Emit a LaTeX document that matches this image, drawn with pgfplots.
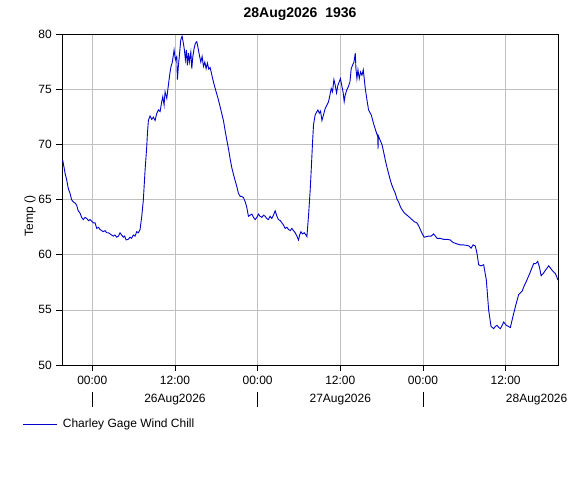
\documentclass[border=0pt]{standalone}
\usepackage{pgfplots}
\pgfplotsset{compat=1.18}
\usepackage{fontspec}
\setmainfont{Liberation Sans}
\definecolor{lineblue}{RGB}{0,0,205}
\definecolor{gridgray}{RGB}{192,192,192}
\begin{document}
\fontsize{12bp}{14bp}\selectfont
\begin{tikzpicture}[x=1bp,y=1bp]
\useasboundingbox (0,0) rectangle (584,488);
\node[font=\fontsize{14bp}{16bp}\selectfont\bfseries] at (300,474) {28Aug2026\ \ 1936};
\node[rotate=90] at (30,272) {Temp ()};
\begin{axis}[
  at={(62bp,123bp)}, anchor=south west,
  scale only axis, width=496bp, height=330.5bp,
  xmin=-4.4, xmax=67.6, ymin=50, ymax=80,
  xtick={0,12,24,36,48,60},
  xticklabels={00:00,12:00,00:00,12:00,00:00,12:00},
  ytick={50,55,60,65,70,75,80},
  xtick pos=left, ytick pos=left,
  grid=major, grid style={gridgray, line width=0.8bp},
  axis line style={black, line width=0.8bp},
  tick style={black, line width=0.8bp},
  tick align=outside, major tick length=6bp,
  /pgf/number format/assume math mode=true,
  ticklabel style={font=\fontsize{12bp}{14bp}\selectfont},
  xticklabel style={yshift=-1bp},
  clip=false,
  legend style={at={(axis description cs:-0.0786,-0.1785)}, anchor=west,
    draw=none, fill=none, inner sep=0pt, outer sep=0pt,
    font=\fontsize{12bp}{14bp}\selectfont,
    /tikz/every odd column/.append style={column sep=3bp}},
  legend image code/.code={\draw[#1] (0bp,0bp) -- (34bp,0bp);},
]
\addplot[lineblue, line width=0.9bp] coordinates {
(-4.30,68.6) (-4.21,68.3) (-3.95,67.4) (-3.72,66.8) (-3.48,66.0) (-3.24,65.6) (-3.00,65.0) (-2.76,64.8) (-2.50,64.7) (-2.27,64.5)
(-2.05,64.0) (-1.79,63.8) (-1.55,63.4) (-1.31,63.2) (-1.05,63.4) (-0.81,63.3) (-0.55,63.1) (-0.33,63.2) (0.15,62.9) (0.40,62.9) (0.64,62.4)
(0.90,62.5) (1.12,62.3) (1.35,62.2) (1.60,62.1) (1.85,62.2) (2.09,62.0) (2.35,62.0) (2.57,61.9) (2.80,61.8) (3.05,61.7) (3.30,61.8) (3.54,61.6)
(3.80,61.7) (4.02,62.0) (4.25,61.8) (4.50,61.6) (4.70,61.7) (4.90,61.35) (5.20,61.4) (5.48,61.6) (5.70,61.5) (5.96,61.8) (6.20,61.7) (6.45,62.1)
(6.70,62.0) (6.93,62.3) (7.18,63.5) (7.41,65.0) (7.66,67.7) (7.90,69.8) (8.00,71.0)
(8.14,72.2) (8.38,72.6) (8.63,72.3) (8.86,72.5) (9.11,72.2) (9.36,72.85) (9.59,73.15) (9.84,73.0)
(10.08,73.9) (10.23,74.35) (10.42,73.6) (10.56,74.8) (10.81,74.2) (11.04,75.4) (11.29,76.6)
(11.43,77.1) (11.62,77.5) (11.87,78.6) (12.06,77.7) (12.26,78.0) (12.35,75.9) (12.49,77.1)
(12.64,78.1) (12.84,79.5) (13.03,79.86) (13.22,79.2) (13.37,78.6) (13.51,77.7) (13.66,78.6)
(13.80,77.2) (13.95,78.3) (14.09,77.5) (14.30,78.4) (14.44,76.9) (14.59,78.0) (14.78,78.75)
(14.96,79.2) (15.17,79.35) (15.36,78.75) (15.55,78.1) (15.75,77.5) (15.94,78.0) (16.13,77.1)
(16.33,77.5) (16.52,76.9) (16.71,77.4) (16.91,76.85) (17.10,77.0) (17.29,76.5) (17.58,75.7)
(17.97,74.8) (18.25,74.2) (18.55,73.45) (19.03,72.2) (19.30,71.2) (19.53,70.4) (19.80,69.5) (20.01,68.7) (20.25,67.9) (20.49,67.3)
(20.75,66.7) (20.98,66.2) (21.20,65.6) (21.46,65.3) (21.70,65.3) (21.94,65.2) (22.20,64.8) (22.43,64.3) (22.66,63.5) (22.90,63.6) (23.16,63.7)
(23.40,63.4) (23.64,63.2) (23.88,63.4) (24.12,63.7) (24.35,63.5) (24.61,63.4) (24.85,63.6) (25.09,63.5) (25.30,63.3) (25.57,63.2) (25.80,63.5) (26.06,63.3)
(26.30,63.6) (26.54,64.0) (26.80,63.5) (27.02,63.2) (27.30,63.1) (27.52,62.9) (27.75,62.7) (27.99,62.4) (28.25,62.5) (28.48,62.3) (28.75,62.2) (28.97,62.4)
(29.20,62.2) (29.45,62.0) (29.70,61.7) (29.93,61.35) (30.10,61.8) (30.28,62.1) (30.50,61.9) (30.76,62.0) (31.00,61.8) (31.15,61.65) (31.38,63.5)
(31.63,65.9) (31.80,68.0) (31.96,70.1) (32.11,71.8) (32.35,72.7) (32.60,73.0) (32.75,73.15) (32.94,72.85) (33.13,73.05)
(33.33,72.2) (33.56,72.7) (33.81,73.3) (34.05,73.6) (34.29,73.9) (34.49,74.5) (34.68,75.1)
(34.87,74.8) (35.07,75.9) (35.26,75.4) (35.45,74.7) (35.65,75.4) (35.84,75.7) (36.02,76.0)
(36.23,75.3) (36.42,74.7) (36.56,73.9) (36.71,74.5) (36.96,75.0) (37.19,75.3) (37.40,75.7)
(37.58,76.9) (37.77,77.2) (37.98,77.5) (38.17,78.3) (38.27,76.9) (38.41,76.0) (38.56,76.8)
(38.75,76.0) (38.94,76.6) (39.14,76.3) (39.33,76.8) (39.47,76.0) (39.62,75.1) (39.87,74.05)
(40.10,73.15) (40.49,72.7) (40.83,71.9) (41.18,71.2) (41.45,70.7) (41.47,69.6) (41.52,70.8)
(42.05,70.0) (42.30,69.3)
(42.53,68.6) (42.75,68.0) (43.00,67.4) (43.25,66.8) (43.50,66.3) (43.75,65.9) (43.98,65.6) (44.20,65.1) (44.46,64.8) (44.70,64.4) (44.95,64.1)
(45.30,63.8) (45.68,63.6) (46.05,63.4) (46.40,63.2) (46.75,63.0) (47.13,62.9) (47.40,62.6) (47.61,62.3) (47.90,61.9) (48.19,61.6) (48.50,61.65) (48.82,61.7)
(49.20,61.7) (49.54,61.9) (49.80,61.7) (50.04,61.5) (50.50,61.5) (51.00,61.4) (51.50,61.4) (51.97,61.35) (52.20,61.2) (52.45,61.1) (52.90,61.0) (53.43,60.9)
(53.90,60.9) (54.40,60.85) (54.70,60.8) (54.98,60.6) (55.27,60.9) (55.60,60.8) (55.85,60.1) (56.08,59.1) (56.40,59.0)
(56.81,59.1) (57.20,57.7) (57.53,55.0) (57.88,53.5) (58.26,53.3) (58.50,53.5) (58.75,53.6) (59.00,53.4)
(59.23,53.3) (59.50,53.6) (59.71,53.9) (60.10,53.6) (60.40,53.5) (60.68,53.4) (61.17,54.7) (61.50,55.5) (61.89,56.4)
(62.39,56.7) (62.70,57.2) (63.01,57.6) (63.49,58.3) (63.80,58.8) (64.07,59.2) (64.35,59.2) (64.65,59.4) (64.90,58.9) (65.15,58.1)
(65.45,58.3) (65.77,58.6) (66.25,59.0) (66.50,58.8) (66.74,58.6) (67.22,58.3) (67.61,57.7)
};
\addlegendentry{Charley Gage Wind Chill}
\draw[black, line width=0.8bp] ([yshift=-27bp]axis cs:0,50) -- ([yshift=-42bp]axis cs:0,50);
\draw[black, line width=0.8bp] ([yshift=-27bp]axis cs:24,50) -- ([yshift=-42bp]axis cs:24,50);
\draw[black, line width=0.8bp] ([yshift=-27bp]axis cs:48,50) -- ([yshift=-42bp]axis cs:48,50);
\node at ([yshift=-35bp]axis cs:12,50) {26Aug2026};
\node at ([yshift=-35bp]axis cs:36,50) {27Aug2026};
\node at ([yshift=-35bp]axis cs:64.5,50) {28Aug2026};
\end{axis}
\end{tikzpicture}
\end{document}
